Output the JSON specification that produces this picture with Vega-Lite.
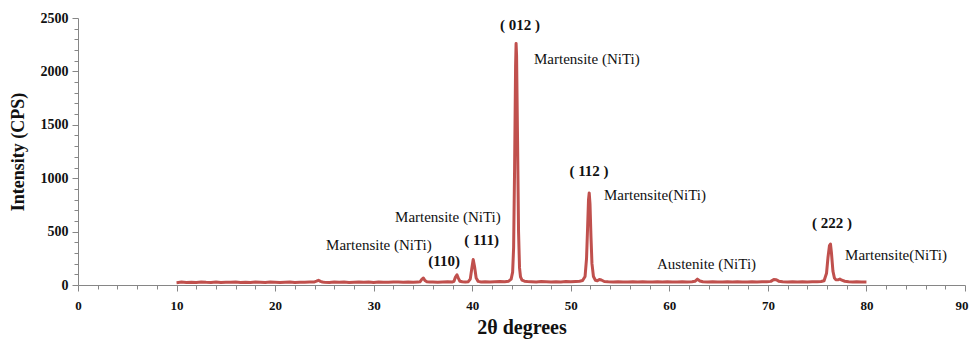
{
  "$schema": "https://vega.github.io/schema/vega-lite/v6.json",
  "width": 887,
  "height": 267,
  "autosize": {"type": "none"},
  "padding": {"left": 78, "top": 18, "right": 4, "bottom": 54},
  "background": "white",
  "config": {"view": {"stroke": null}, "font": "Liberation Serif", "axis": {"labelOverlap": false}},
  "datasets": {
    "xrd": [
      {"x":10,"y":22},{"x":10.5,"y":27},{"x":11,"y":24},{"x":11.5,"y":26},{"x":12,"y":23},{"x":12.5,"y":28},{"x":13,"y":25},{"x":13.5,"y":24},{"x":14,"y":27},{"x":14.5,"y":23},{"x":15,"y":26},{"x":15.5,"y":25},{"x":16,"y":28},{"x":16.5,"y":24},{"x":17,"y":26},{"x":17.5,"y":23},{"x":18,"y":27},{"x":18.5,"y":25},{"x":19,"y":24},{"x":19.5,"y":27},{"x":20,"y":25},{"x":20.5,"y":23},{"x":21,"y":26},{"x":21.5,"y":28},{"x":22,"y":24},{"x":22.5,"y":26},{"x":23,"y":25},{"x":23.5,"y":27},{"x":24,"y":29},{"x":24.2,"y":36},{"x":24.4,"y":44},{"x":24.6,"y":34},{"x":24.8,"y":28},{"x":25,"y":26},{"x":25.5,"y":24},{"x":26,"y":27},{"x":26.5,"y":25},{"x":27,"y":28},{"x":27.5,"y":24},{"x":28,"y":26},{"x":28.5,"y":29},{"x":29,"y":25},{"x":29.5,"y":27},{"x":30,"y":24},{"x":30.5,"y":28},{"x":31,"y":26},{"x":31.5,"y":25},{"x":32,"y":29},{"x":32.5,"y":27},{"x":33,"y":26},{"x":33.5,"y":28},{"x":34,"y":25},{"x":34.5,"y":27},{"x":34.7,"y":30},{"x":34.9,"y":55},{"x":35.05,"y":65},{"x":35.2,"y":42},{"x":35.4,"y":30},{"x":35.7,"y":27},{"x":36,"y":29},{"x":36.5,"y":26},{"x":37,"y":28},{"x":37.5,"y":30},{"x":38,"y":29},{"x":38.15,"y":35},{"x":38.3,"y":75},{"x":38.45,"y":95},{"x":38.6,"y":62},{"x":38.75,"y":35},{"x":39,"y":30},{"x":39.3,"y":28},{"x":39.6,"y":31},{"x":39.8,"y":55},{"x":39.95,"y":150},{"x":40.1,"y":238},{"x":40.25,"y":165},{"x":40.4,"y":65},{"x":40.6,"y":34},{"x":40.9,"y":29},{"x":41.3,"y":31},{"x":41.8,"y":28},{"x":42.3,"y":30},{"x":42.8,"y":32},{"x":43.3,"y":31},{"x":43.7,"y":36},{"x":43.95,"y":55},{"x":44.1,"y":120},{"x":44.2,"y":350},{"x":44.3,"y":1100},{"x":44.4,"y":2050},{"x":44.45,"y":2262},{"x":44.5,"y":2150},{"x":44.6,"y":1350},{"x":44.7,"y":500},{"x":44.8,"y":160},{"x":44.9,"y":75},{"x":45.05,"y":45},{"x":45.3,"y":36},{"x":45.6,"y":33},{"x":46,"y":31},{"x":46.5,"y":29},{"x":47,"y":32},{"x":47.5,"y":30},{"x":48,"y":28},{"x":48.5,"y":31},{"x":49,"y":29},{"x":49.5,"y":32},{"x":50,"y":30},{"x":50.5,"y":33},{"x":50.9,"y":35},{"x":51.2,"y":42},{"x":51.45,"y":80},{"x":51.6,"y":250},{"x":51.7,"y":520},{"x":51.8,"y":800},{"x":51.87,"y":862},{"x":51.95,"y":760},{"x":52.05,"y":450},{"x":52.15,"y":200},{"x":52.3,"y":80},{"x":52.5,"y":45},{"x":52.7,"y":40},{"x":52.9,"y":52},{"x":53.1,"y":47},{"x":53.4,"y":33},{"x":53.8,"y":30},{"x":54.3,"y":28},{"x":54.8,"y":31},{"x":55.3,"y":29},{"x":55.8,"y":27},{"x":56.3,"y":30},{"x":56.8,"y":28},{"x":57.3,"y":31},{"x":57.8,"y":29},{"x":58.3,"y":27},{"x":58.8,"y":30},{"x":59.3,"y":28},{"x":59.8,"y":31},{"x":60.3,"y":29},{"x":60.8,"y":27},{"x":61.3,"y":30},{"x":61.8,"y":28},{"x":62.3,"y":31},{"x":62.6,"y":35},{"x":62.85,"y":55},{"x":63.1,"y":38},{"x":63.4,"y":30},{"x":63.9,"y":28},{"x":64.4,"y":31},{"x":64.9,"y":29},{"x":65.4,"y":27},{"x":65.9,"y":30},{"x":66.4,"y":28},{"x":66.9,"y":31},{"x":67.4,"y":29},{"x":67.9,"y":27},{"x":68.4,"y":30},{"x":68.9,"y":28},{"x":69.4,"y":31},{"x":69.9,"y":30},{"x":70.3,"y":34},{"x":70.6,"y":52},{"x":70.85,"y":50},{"x":71.1,"y":36},{"x":71.5,"y":30},{"x":72,"y":28},{"x":72.5,"y":31},{"x":73,"y":29},{"x":73.5,"y":30},{"x":74,"y":28},{"x":74.5,"y":31},{"x":75,"y":30},{"x":75.4,"y":33},{"x":75.7,"y":40},{"x":75.95,"y":110},{"x":76.1,"y":260},{"x":76.25,"y":370},{"x":76.35,"y":384},{"x":76.45,"y":300},{"x":76.6,"y":130},{"x":76.75,"y":65},{"x":76.9,"y":50},{"x":77.1,"y":48},{"x":77.3,"y":56},{"x":77.5,"y":45},{"x":77.8,"y":35},{"x":78.2,"y":31},{"x":78.6,"y":29},{"x":79,"y":30},{"x":79.5,"y":28},{"x":80,"y":27}
    ],
    "hkl": [
      {"x":44.85,"y":2434,"label":"( 012 )"},
      {"x":51.85,"y":1064,"label":"( 112 )"},
      {"x":76.5,"y":580,"label":"( 222 )"},
      {"x":37.15,"y":225,"label":"(110)"},
      {"x":40.95,"y":421,"label":"( 111)"}
    ],
    "phase": [
      {"x":46.27,"y":2112,"label":"Martensite (NiTi)"},
      {"x":53.37,"y":843,"label":"Martensite(NiTi)"},
      {"x":77.83,"y":281,"label":"Martensite(NiTi)"},
      {"x":58.75,"y":197,"label":"Austenite (NiTi)"},
      {"x":25.17,"y":375,"label":"Martensite (NiTi)"},
      {"x":32.17,"y":637,"label":"Martensite (NiTi)"}
    ]
  },
  "encoding": {
    "x": {
      "field": "x", "type": "quantitative",
      "scale": {"domain": [0, 90], "nice": false, "zero": false},
      "axis": {
        "title": "2θ degrees",
        "values": [0,2,4,6,8,10,12,14,16,18,20,22,24,26,28,30,32,34,36,38,40,42,44,46,48,50,52,54,56,58,60,62,64,66,68,70,72,74,76,78,80,82,84,86,88,90],
        "labelExpr": "datum.value % 10 === 0 ? format(datum.value, 'd') : ''",
        "grid": false,
        "domainColor": "#868686",
        "tickColor": "#868686",
        "tickSize": {"condition": {"test": "datum.value % 10 === 0", "value": 6}, "value": 4},
        "labelFont": "Liberation Serif",
        "labelFontSize": {"condition": {"test": "datum.value % 10 === 0", "value": 13}, "value": 0},
        "labelFontWeight": "bold",
        "labelAlign": {"condition": {"test": "datum.value === 90", "value": "right"}, "value": "center"},
        "labelOffset": {"condition": {"test": "datum.value === 90", "value": 3}, "value": 0},
        "labelColor": "#111",
        "labelPadding": 8,
        "labelFlush": false,
        "labelOverlap": false,
        "titleFont": "Liberation Serif",
        "titleFontSize": 20,
        "titleFontWeight": "bold",
        "titleColor": "#111",
        "titlePadding": 5
      }
    },
    "y": {
      "field": "y", "type": "quantitative",
      "scale": {"domain": [0, 2500], "nice": false},
      "axis": {
        "title": "Intensity (CPS)",
        "values": [0,100,200,300,400,500,600,700,800,900,1000,1100,1200,1300,1400,1500,1600,1700,1800,1900,2000,2100,2200,2300,2400,2500],
        "labelExpr": "datum.value % 500 === 0 ? format(datum.value, 'd') : ''",
        "grid": false,
        "domainColor": "#868686",
        "tickColor": "#868686",
        "tickSize": {"condition": {"test": "datum.value % 500 === 0", "value": 6}, "value": 4},
        "labelFont": "Liberation Serif",
        "labelFontSize": {"condition": {"test": "datum.value % 500 === 0", "value": 14}, "value": 0},
        "labelFontWeight": "bold",
        "labelColor": "#111",
        "labelPadding": 4,
        "labelFlush": false,
        "labelOverlap": false,
        "titleFont": "Liberation Serif",
        "titleFontSize": 18,
        "titleFontWeight": "bold",
        "titleColor": "#111",
        "titlePadding": 13
      }
    }
  },
  "layer": [
    {
      "data": {"name": "xrd"},
      "mark": {"type": "line", "color": "#C0504D", "strokeWidth": 3, "strokeJoin": "round"}
    },
    {
      "data": {"name": "hkl"},
      "mark": {"type": "text", "font": "Liberation Serif", "fontSize": 15, "fontWeight": "bold", "align": "center", "baseline": "middle", "color": "#111"},
      "encoding": {"text": {"field": "label"}}
    },
    {
      "data": {"name": "phase"},
      "mark": {"type": "text", "font": "Liberation Serif", "fontSize": 15, "align": "left", "baseline": "middle", "color": "#111"},
      "encoding": {"text": {"field": "label"}}
    }
  ]
}
